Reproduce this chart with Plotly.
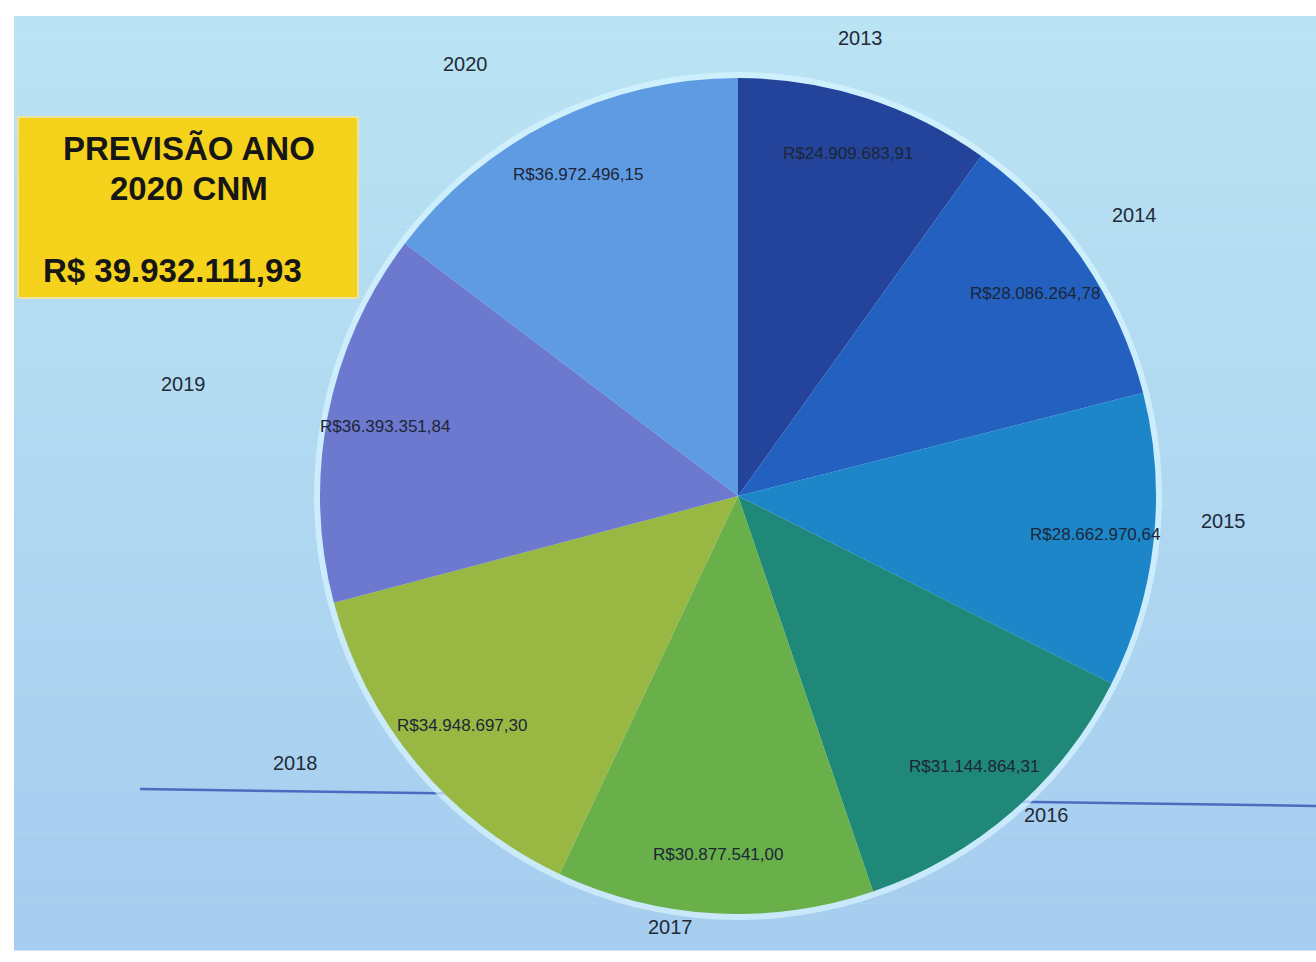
import math
import plotly.graph_objects as go

# Annual values (R$) per year
years = ["2013", "2014", "2015", "2016", "2017", "2018", "2019", "2020"]
values = [24909683.91, 28086264.78, 28662970.64, 31144864.31,
          30877541.00, 34948697.30, 36393351.84, 36972496.15]
slice_colors = ["#24439a", "#2360bf", "#1d86c8", "#1f8878",
                "#69b04a", "#98b843", "#6d79cf", "#5f9be3"]

forecast_lines = ["PREVISÃO ANO", "2020 CNM"]
forecast_value = "R$ 39.932.111,93"

W, H = 1316, 962
CX, CY, R = 738, 496, 418  # pie centre and radius in pixels


def brl(v):
    s = f"{v:,.2f}"
    return "R$" + s.replace(",", "X").replace(".", ",").replace("X", ".")


def px_to_paper(x, y):
    return x / W, 1 - y / H


def mix(c1, c2, t):
    a = [int(c1[i:i + 2], 16) for i in (1, 3, 5)]
    b = [int(c2[i:i + 2], 16) for i in (1, 3, 5)]
    return "#" + "".join(f"{round(x + (y - x) * t):02x}" for x, y in zip(a, b))


fig = go.Figure()

fig.add_trace(go.Pie(
    labels=years,
    values=values,
    sort=False,
    direction="clockwise",
    rotation=0,
    marker=dict(colors=slice_colors, line=dict(width=0)),
    textinfo="none",
    hoverinfo="skip",
    showlegend=False,
    domain=dict(x=[(CX - R) / W, (CX + R) / W],
                y=[1 - (CY + R) / H, 1 - (CY - R) / H]),
))

annotations = []
total = sum(values)
cum = 0.0
for yr, v in zip(years, values):
    mid = (cum + v / 2) / total * 2 * math.pi
    cum += v
    s, c = math.sin(mid), math.cos(mid)
    # value label inside the slice
    vx, vy = CX + 0.86 * R * s, CY - 0.86 * R * c
    ax, ay = px_to_paper(vx, vy)
    annotations.append(dict(x=ax, y=ay, xref="paper", yref="paper", text=brl(v),
                            showarrow=False, xanchor="center", yanchor="middle",
                            font=dict(family="Liberation Sans, Arial", size=17, color="#1c2636")))
    # year label on an outer ring
    lx, ly = (CX - 38) + 1.26 * R * s, (CY - 24) - 1.09 * R * c
    bx, by = px_to_paper(lx, ly)
    annotations.append(dict(x=bx, y=by, xref="paper", yref="paper", text=yr,
                            showarrow=False, xanchor="center", yanchor="middle",
                            font=dict(family="Liberation Sans, Arial", size=20, color="#222a36")))

# forecast box text
for line_text, ypx in zip(forecast_lines, [149, 188]):
    annotations.append(dict(x=189 / W, y=1 - ypx / H, xref="paper", yref="paper",
                            text=f"<b>{line_text}</b>", showarrow=False,
                            xanchor="center", yanchor="middle",
                            font=dict(family="Liberation Sans, Arial", size=33, color="#161616")))
annotations.append(dict(x=172 / W, y=1 - 270 / H, xref="paper", yref="paper",
                        text=f"<b>{forecast_value}</b>", showarrow=False,
                        xanchor="center", yanchor="middle",
                        font=dict(family="Liberation Sans, Arial", size=33, color="#161616")))

shapes = []
# light blue backdrop, shading gently from top to bottom
top_px, bot_px, n_bands = 16, 950, 40
for i in range(n_bands):
    y0 = top_px + (bot_px - top_px) * i / n_bands
    y1 = top_px + (bot_px - top_px) * (i + 1) / n_bands
    shapes.append(dict(type="rect", xref="paper", yref="paper", x0=14 / W, x1=1,
                       y0=1 - (y1 + 0.5) / H, y1=1 - y0 / H,
                       fillcolor=mix("#bae3f3", "#a6cdef", i / (n_bands - 1)),
                       line=dict(width=0), layer="below"))

shapes += [
    # horizontal rule behind the pie
    dict(type="line", xref="paper", yref="paper", x0=140 / W, x1=1, y0=1 - 789 / H, y1=1 - 806 / H,
         line=dict(color="#4a6cc0", width=2.5), layer="below"),
    # soft halo around the pie
    dict(type="circle", xref="paper", yref="paper",
         x0=(CX - R - 6) / W, x1=(CX + R + 6) / W, y0=1 - (CY + R + 6) / H, y1=1 - (CY - R - 6) / H,
         fillcolor="rgba(215,245,255,0.7)", line=dict(width=0), layer="below"),
    # yellow forecast box
    dict(type="rect", xref="paper", yref="paper", x0=18 / W, x1=358 / W, y0=1 - 298 / H, y1=1 - 117 / H,
         fillcolor="#f5d21c", line=dict(color="#ece4a6", width=2), layer="above"),
]

fig.update_layout(
    width=W, height=H,
    margin=dict(l=0, r=0, t=0, b=0),
    paper_bgcolor="#ffffff",
    plot_bgcolor="#ffffff",
    shapes=shapes,
    annotations=annotations,
)

fig.write_html("out.html")
